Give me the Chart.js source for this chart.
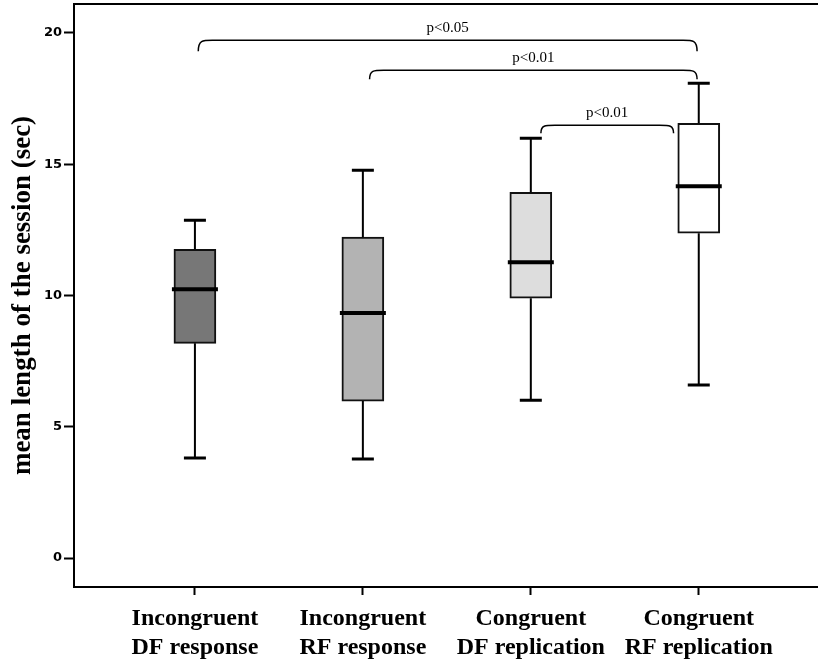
<!DOCTYPE html>
<html>
<head>
<meta charset="utf-8">
<script src="https://cdn.jsdelivr.net/npm/chart.js@4.4.1/dist/chart.umd.min.js"></script>
<style>
  html, body { margin: 0; padding: 0; background: #fff; }
  #wrap { width: 818px; height: 664px; }
</style>
</head>
<body>
<div id="wrap"><canvas id="chart"></canvas></div>
<script>
// Box plot data
const categories = [
    ['Incongruent', 'DF response'],
    ['Incongruent', 'RF response'],
    ['Congruent', 'DF replication'],
    ['Congruent', 'RF replication']
];
const whiskerLow = [3.81, 3.77, 6.01, 6.59];
const q1 = [8.18, 5.98, 9.90, 12.37];
const medians = [10.24, 9.33, 11.27, 14.16];
const q3 = [11.76, 12.22, 13.93, 16.56];
const whiskerHigh = [12.87, 14.77, 15.99, 18.08];
const yTicks = [0, 5, 10, 15, 20];

// significance brackets (x in category position, y in data units)
const bracketFrom = [1.02, 2.04, 3.06];
const bracketTo = [3.99, 3.99, 3.85];
const bracketTop = [19.72, 18.58, 16.48];
const bracketEnd = [19.30, 18.23, 16.18];
const bracketLabels = ['p<0.05', 'p<0.01', 'p<0.01'];

const boxColors = ['#777777', '#b3b3b3', '#dddddd', '#ffffff'];

// Whiskers, medians, brackets and the top frame line
const boxExtras = {
    id: 'boxExtras',
    afterDatasetsDraw(chart) {
        const { ctx, chartArea } = chart;
        const x = chart.scales.x;
        const y = chart.scales.y;
        ctx.save();
        ctx.strokeStyle = '#000';

        // top frame
        ctx.lineWidth = 2;
        ctx.beginPath();
        ctx.moveTo(chartArea.left - 1, chartArea.top);
        ctx.lineTo(chartArea.right, chartArea.top);
        ctx.stroke();

        categories.forEach((c, i) => {
            const px = x.getPixelForValue(i + 1);
            // whisker stems
            ctx.lineWidth = 2;
            ctx.beginPath();
            ctx.moveTo(px, y.getPixelForValue(whiskerHigh[i]));
            ctx.lineTo(px, y.getPixelForValue(q3[i]));
            ctx.moveTo(px, y.getPixelForValue(q1[i]));
            ctx.lineTo(px, y.getPixelForValue(whiskerLow[i]));
            ctx.stroke();
            // caps
            ctx.lineWidth = 3;
            ctx.beginPath();
            [whiskerHigh[i], whiskerLow[i]].forEach(v => {
                const py = y.getPixelForValue(v);
                ctx.moveTo(px - 11, py);
                ctx.lineTo(px + 11, py);
            });
            ctx.stroke();
            // median
            ctx.lineWidth = 4;
            ctx.beginPath();
            const pm = y.getPixelForValue(medians[i]);
            ctx.moveTo(px - 23, pm);
            ctx.lineTo(px + 23, pm);
            ctx.stroke();
        });

        // brackets
        ctx.lineWidth = 1.5;
        ctx.font = '15px "Liberation Serif"';
        ctx.fillStyle = '#000';
        ctx.textAlign = 'center';
        ctx.textBaseline = 'alphabetic';
        bracketLabels.forEach((label, i) => {
            const x0 = x.getPixelForValue(bracketFrom[i]);
            const x1 = x.getPixelForValue(bracketTo[i]);
            const yt = y.getPixelForValue(bracketTop[i]);
            const ye = y.getPixelForValue(bracketEnd[i]);
            const r = 14;
            ctx.beginPath();
            ctx.moveTo(x0, ye);
            ctx.bezierCurveTo(x0, yt, x0 + r * 0.3, yt, x0 + r, yt);
            ctx.lineTo(x1 - r, yt);
            ctx.bezierCurveTo(x1 - r * 0.3, yt, x1, yt, x1, ye);
            ctx.stroke();
            ctx.fillText(label, (x0 + x1) / 2, yt - 8);
        });
        ctx.restore();
    }
};

new Chart(document.getElementById('chart'), {
    type: 'bar',
    data: {
        datasets: [{
            data: categories.map((c, i) => ({ x: i + 1, y: [q1[i], q3[i]] })),
            backgroundColor: boxColors,
            borderColor: '#111',
            borderWidth: 2,
            borderSkipped: false,
            barThickness: 42
        }]
    },
    options: {
        responsive: true,
        maintainAspectRatio: false,
        animation: false,
        layout: { padding: { top: 4, right: 0, left: 0, bottom: 0 } },
        plugins: {
            legend: { display: false },
            tooltip: { enabled: false }
        },
        scales: {
            x: {
                type: 'linear',
                min: 0.28,
                max: 4.71,
                offset: false,
                afterBuildTicks: s => { s.ticks = categories.map((c, i) => ({ value: i + 1 })); },
                afterFit: s => { s.height = 77; s.paddingLeft = 0; s.paddingRight = 0; },
                ticks: {
                    autoSkip: false,
                    maxRotation: 0,
                    padding: 9,
                    color: '#000',
                    font: { family: '"Liberation Serif"', size: 24, weight: 'bold', lineHeight: 1.22 },
                    callback: v => categories[v - 1]
                },
                grid: {
                    offset: false,
                    drawOnChartArea: false,
                    drawTicks: true,
                    tickLength: 8,
                    tickWidth: 2,
                    tickColor: '#000'
                },
                border: { color: '#000', width: 2 }
            },
            y: {
                min: -1.1,
                max: 21.1,
                afterBuildTicks: s => { s.ticks = yTicks.map(v => ({ value: v })); },
                afterFit: s => { s.width = 74; s.paddingTop = 0; s.paddingBottom = 0; },
                ticks: {
                    padding: 2,
                    color: '#000',
                    font: { family: '"DejaVu Sans"', size: 13, weight: 'bold' }
                },
                grid: {
                    drawOnChartArea: false,
                    drawTicks: true,
                    tickLength: 10,
                    tickWidth: 2,
                    tickColor: '#000'
                },
                border: { color: '#000', width: 2 },
                title: {
                    display: true,
                    text: 'mean length of the session (sec)',
                    color: '#000',
                    padding: { top: 7, bottom: 0 },
                    font: { family: '"Liberation Serif"', size: 27, weight: 'bold', lineHeight: 1.2 }
                }
            }
        }
    },
    plugins: [boxExtras]
});
</script>
</body>
</html>
